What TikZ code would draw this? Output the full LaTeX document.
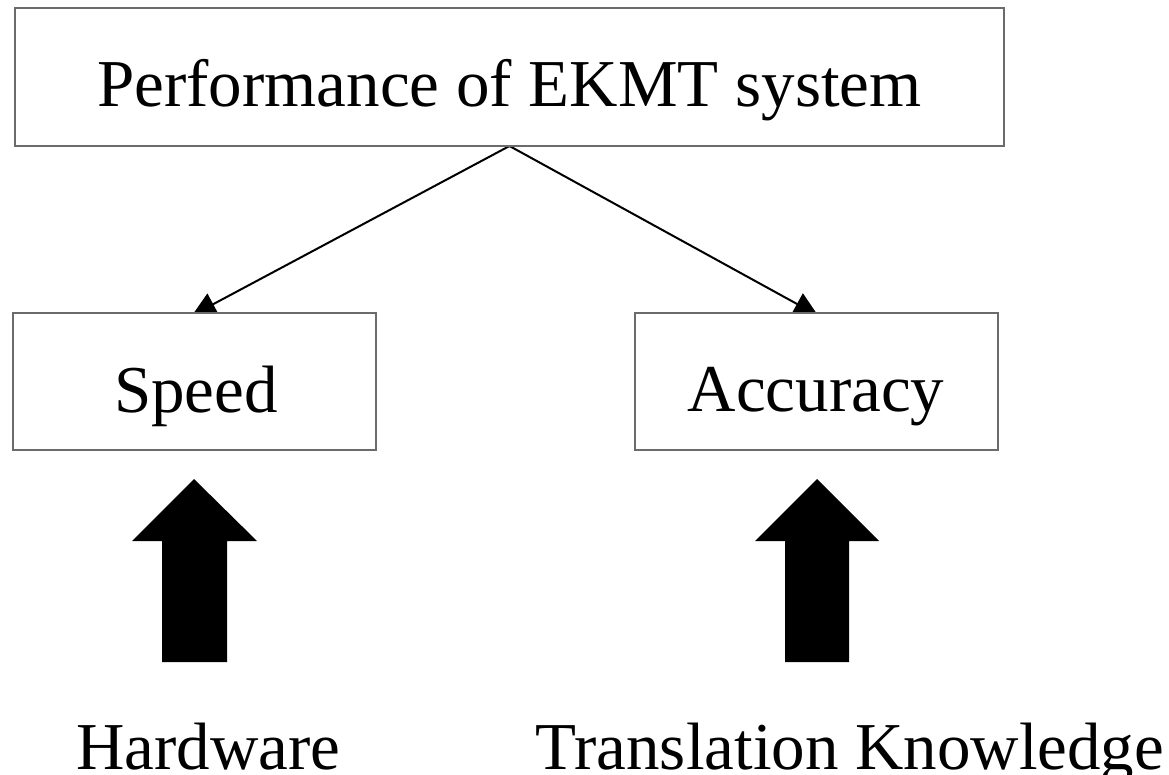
\documentclass[tikz,border=0pt]{standalone}
\usepackage{fontspec}
\setmainfont{Liberation Serif}
\usetikzlibrary{arrows.meta}

\tikzset{
  box/.style={draw=black!58, line width=1.2pt, fill=white},
  label/.style={anchor=base, inner sep=0pt, font=\fontsize{67}{80}\selectfont},
  link/.style={line width=2pt, -{Triangle[length=24pt, width=24pt]}},
  bigarrow/.style={fill=black, draw=none}
}

\begin{document}
\begin{tikzpicture}[x=1pt, y=-1pt]
  \useasboundingbox (0,0) rectangle (1169,774);

  % connectors first, so the white boxes cover the arrow tips
  \coordinate (topfoot) at (509.5,146);
  \coordinate (tipL) at (192,315.5);
  \coordinate (tipR) at (818,315.5);
  \draw[link] (topfoot) -- (tipL);
  \draw[link] (topfoot) -- (tipR);

  % boxes
  \path[box] (15,8) rectangle (1004,146);
  \path[box] (13,313) rectangle (376,450);
  \path[box] (635,313) rectangle (998,450);

  % box texts
  \node[label] (perf) at (509.5,106) {Performance of EKMT system};
  \node[label] (speed) at (196,412) {Speed};
  \node[label] (acc) at (816,411) {Accuracy};

  % thick upward block arrows
  \fill[bigarrow] (194,479) -- (257,541) -- (227,541) -- (227,662)
    -- (162,662) -- (162,541) -- (132,541) -- cycle;
  \fill[bigarrow] (817,479) -- (879,541) -- (849,541) -- (849,662)
    -- (785,662) -- (785,541) -- (755,541) -- cycle;

  % bottom labels
  \node[label] (hw) at (208.5,769) {Hardware};
  \node[label] (tk) at (850,769) {Translation Knowledge};
\end{tikzpicture}
\end{document}
